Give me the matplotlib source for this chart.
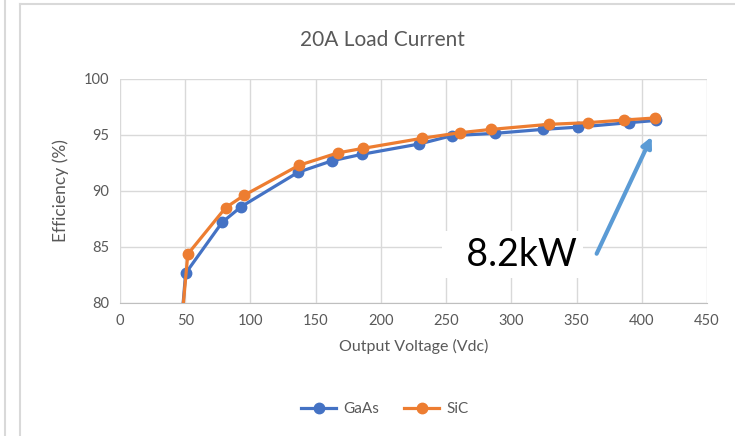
import matplotlib.pyplot as plt
from matplotlib.lines import Line2D

# data
voltage_gaas = [47, 50.3, 78.3, 92.9, 136.5, 162.6, 185.6, 229.5, 254.4, 287.6, 324, 350.9, 390, 411]
eff_gaas = [78, 82.65, 87.2, 88.6, 91.67, 92.7, 93.28, 94.2, 94.94, 95.15, 95.5, 95.7, 96.1, 96.3]
voltage_sic = [47, 52, 80.9, 94.9, 137.3, 166.9, 186, 231.2, 260.3, 284.5, 328.5, 358.6, 386.7, 410]
eff_sic = [78, 84.37, 88.5, 89.6, 92.3, 93.4, 93.8, 94.7, 95.2, 95.5, 95.95, 96.1, 96.34, 96.52]

x_ticks = [0, 50, 100, 150, 200, 250, 300, 350, 400, 450]
y_ticks = [80, 85, 90, 95, 100]

plt.rcParams['font.family'] = ['Lato', 'DejaVu Sans']

blue = "#4472C4"
orange = "#ED7D31"
grey_text = "#595959"
grid_col = "#D9D9D9"

fig = plt.figure(figsize=(7.35, 4.36), dpi=100)
ax = fig.add_axes([120 / 735, 1 - 303 / 436, 587 / 735, 224 / 436])

ax.plot(voltage_gaas, eff_gaas, color=blue, lw=2.3, marker="o", ms=7.5, label="GaAs", zorder=3)
ax.plot(voltage_sic, eff_sic, color=orange, lw=2.3, marker="o", ms=7.5, label="SiC", zorder=4)

ax.set_xlim(0, 450)
ax.set_ylim(80, 100)
ax.set_xticks(x_ticks)
ax.set_yticks(y_ticks)
ax.grid(True, color=grid_col, lw=1)
ax.set_axisbelow(True)
for s in ["top", "right", "left"]:
    ax.spines[s].set_visible(False)
ax.spines["bottom"].set_color("#BFBFBF")
ax.tick_params(length=0, labelsize=10.5, colors=grey_text, pad=8)

ax.set_xlabel("Output Voltage (Vdc)", fontsize=11.5, color=grey_text, labelpad=8)
ax.set_ylabel("Efficiency (%)", fontsize=12.5, color=grey_text, labelpad=10)

fig.text(382 / 735, 1 - 40 / 436, "20A Load Current", ha="center", va="center",
         fontsize=15, color=grey_text)

# annotation
ax.annotate("", xy=(407.6, 94.85), xytext=(365.4, 84.4),
            arrowprops=dict(arrowstyle="-|>,head_length=0.6,head_width=0.3",
                            color="#5B9BD5", lw=3, shrinkA=0, shrinkB=0), zorder=5)
ax.text(350.5, 84.3, "  8.2kW", fontsize=27, ha="right", va="center", color="black",
        bbox=dict(boxstyle="square,pad=0.15", facecolor="white", edgecolor="none"), zorder=5)

fig.legend(loc="center", bbox_to_anchor=(385 / 735, 1 - 409 / 436), ncol=2,
           frameon=False, fontsize=11, labelcolor=grey_text, handlelength=2.3,
           handletextpad=0.5, columnspacing=1.6)

# chart borders
fig.add_artist(Line2D([5 / 735, 5 / 735], [0, 1], transform=fig.transFigure, color=grid_col, lw=1.5))
fig.add_artist(Line2D([19.5 / 735, 19.5 / 735], [0, 1 - 4 / 436], transform=fig.transFigure, color=grid_col, lw=1.5))
fig.add_artist(Line2D([19.5 / 735, 1], [1 - 4 / 436, 1 - 4 / 436], transform=fig.transFigure, color=grid_col, lw=1.5))

fig.savefig("out.png", dpi=100)
